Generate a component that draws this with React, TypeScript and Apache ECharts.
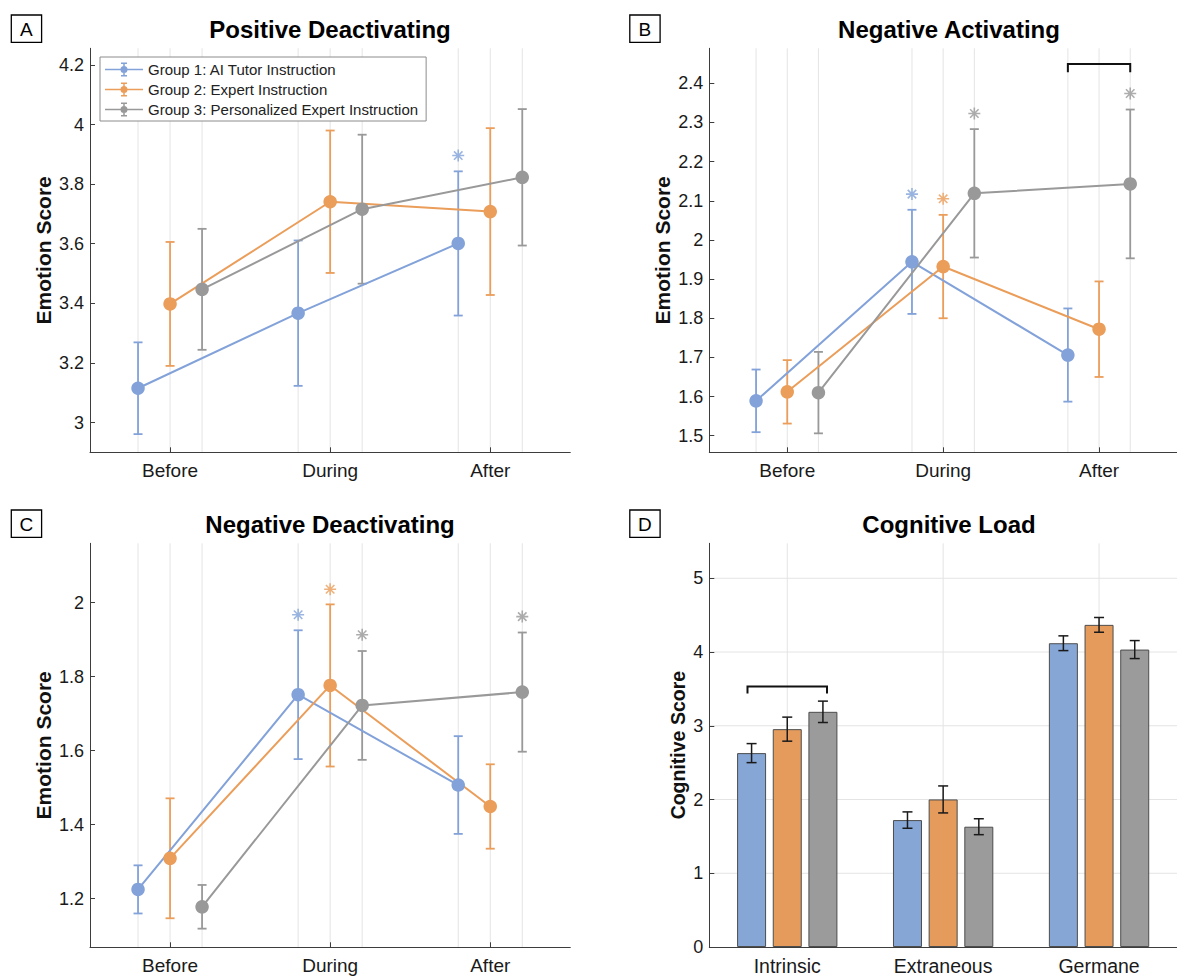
import React, { useEffect, useRef } from 'react';
import * as echarts from 'echarts';

// ---------- data ----------
const TIME_POINTS = ['Before', 'During', 'After'];
const LOAD_TYPES = ['Intrinsic', 'Extraneous', 'Germane'];
const GROUPS = [
  'Group 1: AI Tutor Instruction',
  'Group 2: Expert Instruction',
  'Group 3: Personalized Expert Instruction',
];

// A: Positive Deactivating (rows = groups, cols = time points)
const posDeactMean = [
  [3.115, 3.367, 3.601],
  [3.398, 3.741, 3.708],
  [3.447, 3.716, 3.823],
];
const posDeactErr = [
  [0.154, 0.244, 0.242],
  [0.208, 0.239, 0.28],
  [0.203, 0.25, 0.229],
];
const posDeactStar = [
  [null, null, 3.896],
  [null, null, null],
  [null, null, null],
];
const posDeactTicks = [3, 3.2, 3.4, 3.6, 3.8, 4, 4.2];

// B: Negative Activating
const negActMean = [
  [1.589, 1.944, 1.706],
  [1.612, 1.932, 1.772],
  [1.61, 2.119, 2.143],
];
const negActErr = [
  [0.08, 0.133, 0.119],
  [0.081, 0.132, 0.122],
  [0.104, 0.164, 0.19],
];
const negActStar = [
  [null, 2.117, null],
  [null, 2.105, null],
  [null, 2.323, 2.374],
];
const negActTicks = [1.5, 1.6, 1.7, 1.8, 1.9, 2, 2.1, 2.2, 2.3, 2.4];
const negActBracket = [2.449, 2.428]; // top, end of legs

// C: Negative Deactivating
const negDeactMean = [
  [1.225, 1.751, 1.507],
  [1.309, 1.776, 1.449],
  [1.178, 1.722, 1.758],
];
const negDeactErr = [
  [0.065, 0.174, 0.132],
  [0.162, 0.219, 0.114],
  [0.059, 0.147, 0.161],
];
const negDeactStar = [
  [null, 1.967, null],
  [null, 2.036, null],
  [null, 1.913, 1.962],
];
const negDeactTicks = [1.2, 1.4, 1.6, 1.8, 2];

// D: Cognitive Load (rows = groups, cols = load types)
const loadMean = [
  [2.629, 1.721, 4.119],
  [2.954, 2.001, 4.368],
  [3.189, 1.631, 4.033],
];
const loadErr = [
  [0.129, 0.111, 0.1],
  [0.163, 0.183, 0.1],
  [0.145, 0.108, 0.122],
];
const loadTicks = [0, 1, 2, 3, 4, 5];
const loadBracket = [3.531, 3.437];

// ---------- layout & style ----------
const OFFSETS = [-0.2, 0, 0.2];
const FONT = "'Liberation Sans', Arial, Helvetica, sans-serif";
const LINE_COLORS = ['#82a2d9', '#eb9d5a', '#999999'];
const BAR_COLORS = ['#86a6d6', '#e49b5c', '#9b9b9b'];
const AXIS_COLOR = '#3d3d3d';
const GRID_COLOR = '#e4e4e4';
const TEXT_COLOR = '#1a1a1a';
const BAR_W = 29;
const BAR_GAP = 0.23;

const GRIDS = [
  { left: 90, top: 48.3, width: 480.3, height: 404 },
  { left: 709.3, top: 48.3, width: 480, height: 404 },
  { left: 90, top: 543.3, width: 480.3, height: 404 },
  { left: 709.3, top: 543.3, width: 480, height: 404 },
];
const Y_RANGES = [
  [2.9, 4.256],
  [1.4576, 2.4894],
  [1.0686, 2.16],
  [0, 5.474],
];

const ASTERISK = 'path://M6,0V12M0,6H12M1.76,1.76L10.24,10.24M1.76,10.24L10.24,1.76';
const LEGEND_ICON =
  'path://M0,6.25H38V7.75H0Z M18.25,1H19.75V13H18.25Z M16,0H22V1.5H16Z M16,12.5H22V14H16Z M15.5,7A3.5,3.5 0 1,1 22.5,7A3.5,3.5 0 1,1 15.5,7Z';

function errRender(color: string, capHalf: number, lw: number, pxOffset = 0) {
  return (params: any, api: any) => {
    const x = api.value(0);
    const a = api.coord([x, api.value(1)]);
    const b = api.coord([x, api.value(2)]);
    const cx = a[0] + pxOffset;
    const st = { stroke: color, lineWidth: lw };
    return {
      type: 'group',
      children: [
        { type: 'line', shape: { x1: cx, y1: a[1], x2: cx, y2: b[1] }, style: st },
        { type: 'line', shape: { x1: cx - capHalf, y1: a[1], x2: cx + capHalf, y2: a[1] }, style: st },
        { type: 'line', shape: { x1: cx - capHalf, y1: b[1], x2: cx + capHalf, y2: b[1] }, style: st },
      ],
    };
  };
}

function yAxisCfg(idx: number, ticks: number[], name: string, nameGap: number, nameSize: number) {
  return {
    type: 'value',
    gridIndex: idx,
    min: Y_RANGES[idx][0],
    max: Y_RANGES[idx][1],
    axisLine: { show: true, onZero: false, lineStyle: { color: AXIS_COLOR, width: 1 } },
    axisTick: { show: true, inside: true, length: 5, customValues: ticks, lineStyle: { color: AXIS_COLOR } },
    axisLabel: {
      customValues: ticks,
      formatter: (v: number) => String(v),
      fontSize: 18,
      color: TEXT_COLOR,
      margin: 6,
      fontFamily: FONT,
    },
    splitLine: { show: false },
    name,
    nameLocation: 'middle',
    nameGap,
    nameRotate: 90,
    nameTextStyle: { fontSize: nameSize, fontWeight: 'bold', color: '#111', fontFamily: FONT },
  };
}

function linePanel(idx: number, mean: number[][], err: number[][], star: (number | null)[][], ticks: number[]) {
  const xAxis = {
    type: 'value',
    gridIndex: idx,
    min: 0.5,
    max: 3.5,
    axisLine: { show: true, onZero: false, lineStyle: { color: AXIS_COLOR, width: 1 } },
    axisTick: { show: true, inside: true, length: 5, customValues: [1, 2, 3], lineStyle: { color: AXIS_COLOR } },
    axisLabel: {
      customValues: [1, 2, 3],
      formatter: (v: number) => TIME_POINTS[Math.round(v) - 1] ?? '',
      fontSize: 19,
      color: TEXT_COLOR,
      margin: 9,
      fontFamily: FONT,
    },
    splitLine: { show: false },
  };
  const yAxis = yAxisCfg(idx, ticks, 'Emotion Score', 36, 21);
  const yMin = Y_RANGES[idx][0];
  const series: any[] = [];
  const gx: number[][] = [];
  TIME_POINTS.forEach((_, i) => OFFSETS.forEach((o) => gx.push([i + 1 + o, yMin])));
  series.push({
    type: 'custom',
    name: 'grid' + idx,
    xAxisIndex: idx,
    yAxisIndex: idx,
    z: 0,
    silent: true,
    data: gx,
    encode: { x: 0, y: 1 },
    renderItem: (params: any, api: any) => {
      const p = api.coord([api.value(0), api.value(1)]);
      const cs = params.coordSys;
      return {
        type: 'line',
        shape: { x1: p[0], y1: cs.y, x2: p[0], y2: cs.y + cs.height },
        style: { stroke: GRID_COLOR, lineWidth: 1 },
      };
    },
  });
  mean.forEach((row, g) => {
    const color = LINE_COLORS[g];
    series.push({
      type: 'custom',
      name: 'err' + idx + '_' + g,
      xAxisIndex: idx,
      yAxisIndex: idx,
      z: 2,
      silent: true,
      data: row.map((m, i) => [i + 1 + OFFSETS[g], m - err[g][i], m + err[g][i]]),
      encode: { x: 0, y: [1, 2] },
      renderItem: errRender(color, 4.5, 1.8),
    });
  });
  mean.forEach((row, g) => {
    const color = LINE_COLORS[g];
    series.push({
      type: 'line',
      name: GROUPS[g],
      xAxisIndex: idx,
      yAxisIndex: idx,
      z: 3,
      data: row.map((m, i) => [i + 1 + OFFSETS[g], m]),
      symbol: 'circle',
      symbolSize: 13.5,
      color,
      itemStyle: { color },
      lineStyle: { color, width: 2 },
      silent: true,
    });
  });
  star.forEach((row, g) => {
    const color = LINE_COLORS[g];
    const pts = row
      .map((s, i) => (s === null ? null : [i + 1 + OFFSETS[g], s]))
      .filter((p) => p !== null);
    if (!pts.length) return;
    series.push({
      type: 'scatter',
      name: 'star' + idx + '_' + g,
      xAxisIndex: idx,
      yAxisIndex: idx,
      z: 4,
      silent: true,
      data: pts,
      symbol: ASTERISK,
      symbolSize: 12,
      itemStyle: { color: 'rgba(0,0,0,0)', borderColor: color, borderWidth: 1.6 },
    });
  });
  return { xAxis, yAxis, series };
}

function barPanel(idx: number) {
  const xAxis = {
    type: 'category',
    gridIndex: idx,
    data: LOAD_TYPES,
    boundaryGap: true,
    axisLine: { show: true, onZero: false, lineStyle: { color: AXIS_COLOR, width: 1 } },
    axisTick: { show: true, inside: true, length: 5, alignWithLabel: true, lineStyle: { color: AXIS_COLOR } },
    axisLabel: { fontSize: 19.5, color: TEXT_COLOR, margin: 9, fontFamily: FONT },
    splitLine: { show: false },
  };
  const yAxis = yAxisCfg(idx, loadTicks, 'Cognitive Score', 21, 19.5);
  const series: any[] = [];
  series.push({
    type: 'custom',
    name: 'gridDv',
    xAxisIndex: idx,
    yAxisIndex: idx,
    z: 0,
    silent: true,
    data: LOAD_TYPES.map((_, i) => [i, 0]),
    encode: { x: 0, y: 1 },
    renderItem: (params: any, api: any) => {
      const p = api.coord([api.value(0), api.value(1)]);
      const cs = params.coordSys;
      return {
        type: 'line',
        shape: { x1: p[0], y1: cs.y, x2: p[0], y2: cs.y + cs.height },
        style: { stroke: GRID_COLOR, lineWidth: 1 },
      };
    },
  });
  series.push({
    type: 'custom',
    name: 'gridDh',
    xAxisIndex: idx,
    yAxisIndex: idx,
    z: 0,
    silent: true,
    data: loadTicks.filter((t) => t > 0).map((t) => [0, t]),
    encode: { x: 0, y: 1 },
    renderItem: (params: any, api: any) => {
      const p = api.coord([api.value(0), api.value(1)]);
      const cs = params.coordSys;
      return {
        type: 'line',
        shape: { x1: cs.x, y1: p[1], x2: cs.x + cs.width, y2: p[1] },
        style: { stroke: GRID_COLOR, lineWidth: 1 },
      };
    },
  });
  loadMean.forEach((row, g) => {
    series.push({
      type: 'bar',
      name: 'bar' + g,
      xAxisIndex: idx,
      yAxisIndex: idx,
      z: 2,
      silent: true,
      data: row,
      barWidth: BAR_W,
      barGap: BAR_GAP * 100 + '%',
      itemStyle: { color: BAR_COLORS[g], borderColor: '#4d4d4d', borderWidth: 1 },
    });
  });
  loadMean.forEach((row, g) => {
    series.push({
      type: 'custom',
      name: 'errD' + g,
      xAxisIndex: idx,
      yAxisIndex: idx,
      z: 3,
      silent: true,
      data: row.map((m, i) => [i, m - loadErr[g][i], m + loadErr[g][i]]),
      encode: { x: 0, y: [1, 2] },
      renderItem: errRender('#1a1a1a', 5, 1.5, (g - 1) * (BAR_W + BAR_W * BAR_GAP)),
    });
  });
  series.push({
    type: 'custom',
    name: 'bracketD',
    xAxisIndex: idx,
    yAxisIndex: idx,
    z: 4,
    silent: true,
    data: [[0, loadBracket[0], loadBracket[1]]],
    encode: { x: 0, y: [1, 2] },
    renderItem: (params: any, api: any) => {
      const t = api.coord([api.value(0), api.value(1)]);
      const e = api.coord([api.value(0), api.value(2)]);
      const band = api.size([1, 0])[0];
      const x1 = t[0] - 0.255 * band;
      const x2 = t[0] + 0.255 * band;
      return {
        type: 'polyline',
        shape: { points: [[x1, e[1]], [x1, t[1]], [x2, t[1]], [x2, e[1]]] },
        style: { stroke: '#111', lineWidth: 2, fill: 'none' },
      };
    },
  });
  return { xAxis, yAxis, series };
}

function buildOption() {
  const A = linePanel(0, posDeactMean, posDeactErr, posDeactStar, posDeactTicks);
  const B = linePanel(1, negActMean, negActErr, negActStar, negActTicks);
  const C = linePanel(2, negDeactMean, negDeactErr, negDeactStar, negDeactTicks);
  const D = barPanel(3);
  B.series.push({
    type: 'custom',
    name: 'bracketB',
    xAxisIndex: 1,
    yAxisIndex: 1,
    z: 4,
    silent: true,
    data: [[3 + OFFSETS[0], 3 + OFFSETS[2], negActBracket[0], negActBracket[1]]],
    encode: { x: [0, 1], y: [2, 3] },
    renderItem: (params: any, api: any) => {
      const a = api.coord([api.value(0), api.value(3)]);
      const b = api.coord([api.value(0), api.value(2)]);
      const c = api.coord([api.value(1), api.value(2)]);
      const d = api.coord([api.value(1), api.value(3)]);
      return {
        type: 'polyline',
        shape: { points: [a, b, c, d] },
        style: { stroke: '#111', lineWidth: 2, fill: 'none' },
      };
    },
  });

  const panels = [
    { letter: 'A', title: 'Positive Deactivating', bx: 11.3, by: 15, tx: 330, ty: 29.5 },
    { letter: 'B', title: 'Negative Activating', bx: 629.8, by: 15, tx: 949, ty: 29.5 },
    { letter: 'C', title: 'Negative Deactivating', bx: 11.3, by: 510, tx: 330, ty: 524.5 },
    { letter: 'D', title: 'Cognitive Load', bx: 629.8, by: 510, tx: 949, ty: 524.5 },
  ];
  const graphic: any[] = [];
  panels.forEach((p) => {
    graphic.push({
      type: 'rect',
      shape: { x: p.bx, y: p.by, width: 30.3, height: 27.3 },
      style: { fill: '#fff', stroke: '#000', lineWidth: 1.3 },
      silent: true,
    });
    graphic.push({
      type: 'text',
      x: p.bx + 15.15,
      y: p.by + 14.2,
      style: { text: p.letter, fontSize: 19, fontFamily: FONT, fill: '#000', align: 'center', verticalAlign: 'middle' },
      silent: true,
    });
    graphic.push({
      type: 'text',
      x: p.tx,
      y: p.ty,
      style: {
        text: p.title,
        fontSize: 24,
        fontWeight: 'bold',
        fontFamily: FONT,
        fill: '#000',
        align: 'center',
        verticalAlign: 'middle',
      },
      silent: true,
    });
  });

  return {
    animation: false,
    backgroundColor: '#ffffff',
    textStyle: { fontFamily: FONT },
    grid: GRIDS.map((g) => ({ ...g, containLabel: false })),
    xAxis: [A.xAxis, B.xAxis, C.xAxis, D.xAxis],
    yAxis: [A.yAxis, B.yAxis, C.yAxis, D.yAxis],
    legend: {
      left: 100,
      top: 57,
      orient: 'vertical',
      data: GROUPS.map((n) => ({ name: n, icon: LEGEND_ICON })),
      itemWidth: 38,
      itemHeight: 14,
      itemGap: 5,
      padding: [5, 8, 4, 5],
      backgroundColor: '#ffffff',
      borderColor: '#8c8c8c',
      borderWidth: 1,
      borderRadius: 0,
      selectedMode: false,
      itemStyle: { borderWidth: 0 },
      textStyle: { fontSize: 15, color: '#222', fontFamily: FONT },
      z: 10,
    },
    graphic,
    series: [...A.series, ...B.series, ...C.series, ...D.series],
  };
}

export default function App() {
  const ref = useRef<HTMLDivElement>(null);
  useEffect(() => {
    const el = ref.current;
    if (!el) return;
    const chart = echarts.init(el, null, { renderer: 'svg' });
    chart.setOption(buildOption() as any);
    return () => chart.dispose();
  }, []);
  return (
    <div
      ref={ref}
      style={{ position: 'absolute', left: 0, top: 0, width: 1177, height: 976, background: '#fff' }}
    />
  );
}
